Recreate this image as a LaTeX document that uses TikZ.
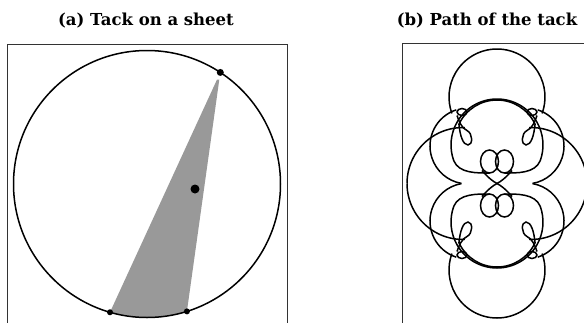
\documentclass[tikz,border=0pt]{standalone}
\usepackage{fontspec}
\setmainfont{DejaVu Serif}
\usetikzlibrary{calc}
\tikzset{
  frame/.style={draw=black!80,line width=0.6pt},
  curve/.style={draw=black,line width=1.5pt},
  tackdot/.style={circle,fill=black,inner sep=0pt,minimum size=#1},
  title/.style={font=\fontsize{16.5}{19}\selectfont\bfseries},
}
\begin{document}
\begin{tikzpicture}[x=1pt,y=-1pt]
\useasboundingbox (0,0) rectangle (584,322);

%% ---------- (a) tack on a sheet ----------
\node[title] (titlea) at (146,21) {(a)\ Tack on a sheet};
\draw[frame] (7,330) -- (7,44) -- (287,44) -- (287,330);

\coordinate (O) at (147,184);
\coordinate (A) at ($(O)+(-56.7:133.5)$);
\coordinate (B) at ($(O)+(106.1:133.5)$);
\coordinate (C) at ($(O)+(72.6:133.5)$);

\fill[black!40] ($(A)!0.03!(B)$) -- (B) arc[start angle=106.1,end angle=72.6,radius=133.5]
  -- ($(A)!0.03!(C)$) -- cycle;
\draw[curve] (O) circle[radius=133.5];

\node[tackdot=7pt] (pa) at (A) {};
\node[tackdot=6pt] (pb) at (B) {};
\node[tackdot=6pt] (pc) at (C) {};
\node[tackdot=9pt] (tack) at (195,189) {};

%% ---------- (b) path of the tack ----------
\node[title] (titleb) at (487,21) {(b)\ Path of the tack};
\draw[frame] (402,330) -- (402,43) -- (600,43);

\begin{scope}[shift={(497,183.5)}]
\foreach \sx/\sy in {1/1,-1/1,1/-1,-1/-1}{
  \begin{scope}[xscale=\sx,yscale=\sy]
    % cap
    \draw[curve] (0,-134.5) arc[start angle=270,end angle=160,radius=48];
    % big side circle
    \draw[curve] (-90,0) arc[start angle=180,end angle=272,radius=56];
    % middle circle
    \draw[curve] ($(-29,-37.5)+(252:38)$) arc[start angle=252,end angle=100,radius=38];
    % inner arches
    \draw[curve] (0,-84.5) arc[start angle=270,end angle=160,radius=46]
                 .. controls (-38,-10) and (-20,-10.5) .. (-7.5,-10.5);
    \draw[curve] (0,-83.5) arc[start angle=270,end angle=205,radius=42]
                 .. controls (-37,-48) and (-34,-38.5) .. (-29,-38.5)
                 .. controls (-24,-38.5) and (-24,-50) .. (-30,-53)
                 .. controls (-35,-55) and (-38,-62) .. (-40,-68);
    % loops
    \draw[curve] (-7.5,-22) ellipse[x radius=9,y radius=11.5];
    \draw[curve] (-35,-71.5) ellipse[x radius=5,y radius=3.5];
    \draw[curve] (-15,-13) .. controls (-9,-6) and (-4,-2) .. (0,0);
  \end{scope}
}
\end{scope}
\end{tikzpicture}
\end{document}
